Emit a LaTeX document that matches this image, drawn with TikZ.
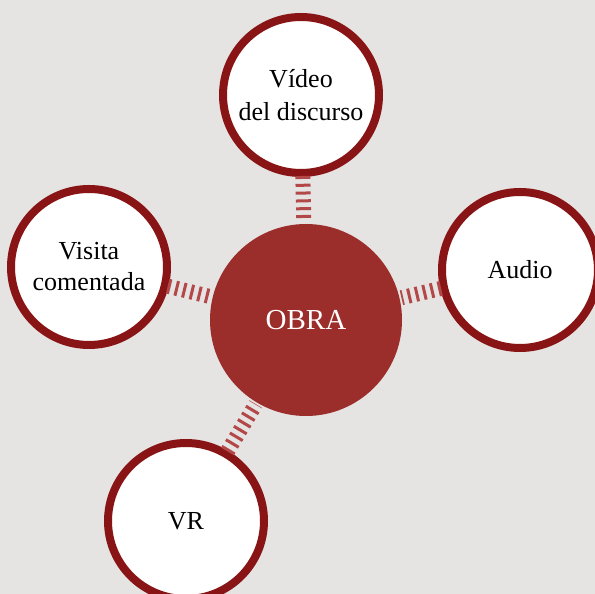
\documentclass[tikz,border=0pt]{standalone}
\usepackage{fontspec}
\setmainfont{Liberation Serif}
\definecolor{fondo}{RGB}{230,228,226}
\definecolor{borde}{RGB}{136,20,22}
\definecolor{obra}{RGB}{155,45,42}
\definecolor{raya}{RGB}{178,72,72}
\begin{document}
\begin{tikzpicture}[x=1pt,y=1pt]

    \tikzset{
      satelite/.style={
        circle,
        draw=borde,
        line width=8pt,
        fill=white,
        minimum size=156pt,
        inner sep=0pt,
        outer sep=0pt,
        align=center,
        font=\fontsize{26}{31}\selectfont,
      },
      centro/.style={
        circle,
        fill=obra,
        minimum size=192pt,
        inner sep=0pt,
        outer sep=0pt,
        text=white,
        font=\fontsize{29}{31}\selectfont,
      },
      enlace/.style={
        draw=raya,
        line width=15pt,
        dash pattern=on 3pt off 4.8pt,
        shorten >=2pt,
        shorten <=3pt,
      },
    }

	\useasboundingbox (0,0) rectangle (595,594);
	\fill[color={fondo}] (0,0) rectangle (595,594);
	\clip (0,0) rectangle (595,594);

	\node[centro] (obra) at (306,274) {OBRA};
	\node[satelite] (video) at (301,499) {\raisebox{2pt}{Vídeo}\\del discurso};
	\node[satelite] (visita) at (89,327) {Visita\\comentada};
	\node[satelite] (audio) at (520,324) {Audio};
	\node[satelite] (vr) at (186,73) {VR};

	\draw[enlace] (video) -- (obra);
	\draw[enlace] (visita) -- (obra);
	\draw[enlace] (audio) -- (obra);
	\draw[enlace] (vr) -- (obra);

\end{tikzpicture}
\end{document}
